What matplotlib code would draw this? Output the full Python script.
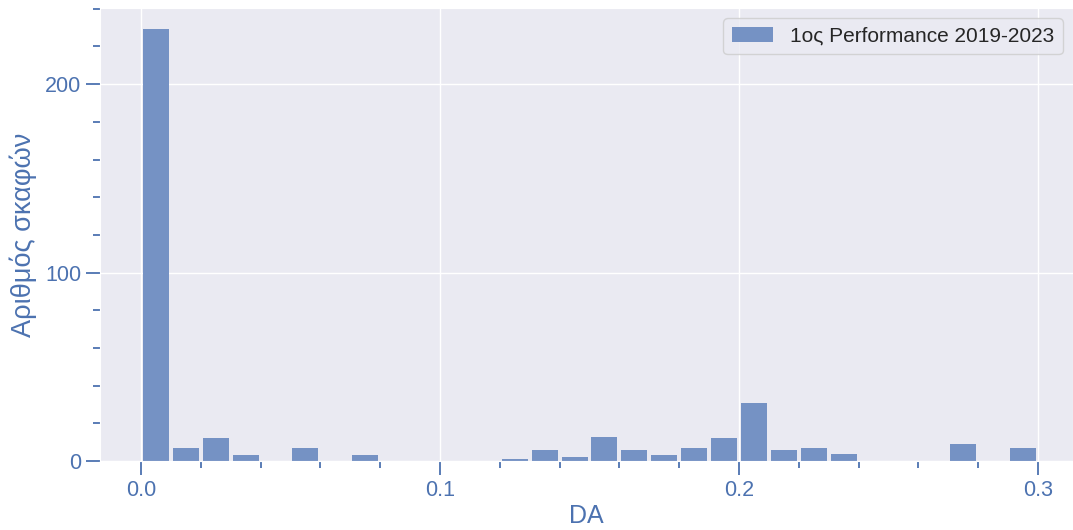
import matplotlib
matplotlib.use("Agg")
import matplotlib.pyplot as plt
import seaborn as sns
import numpy as np
from matplotlib.ticker import MultipleLocator

# histogram bins (DA, width 0.01) and counts
bin_edges = [round(0.01 * i, 2) for i in range(31)]
counts = [229, 7, 12, 3, 0, 7, 0, 3, 0, 0,
          0, 0, 1, 6, 2, 13, 6, 3, 7, 12,
          31, 6, 7, 4, 0, 0, 0, 9, 0, 7]
series_label = "1ος Performance 2019-2023"
x_label = "DA"
y_label = "Αριθμός σκαφών"

sns.set_style("darkgrid")
plt.rcParams['font.family'] = ['Liberation Sans', 'DejaVu Sans']
blue = '#4C72B0'
bar_color = '#7592C4'  # deep blue at 0.75 alpha over the grey background

fig = plt.figure(figsize=(10.73, 5.30), dpi=100)
ax = fig.add_axes([0.0932, 0.130, 0.9068, 0.855])

centers = [(a + b) / 2 for a, b in zip(bin_edges[:-1], bin_edges[1:])]
ax.hist(centers, bins=bin_edges, weights=counts, color=bar_color,
        rwidth=0.87, linewidth=0, label=series_label)

ax.set_xlim(-0.0137, 0.3117)
ax.set_ylim(0, 240.4)

ax.xaxis.set_major_locator(MultipleLocator(0.1))
ax.xaxis.set_minor_locator(MultipleLocator(0.02))
ax.yaxis.set_major_locator(MultipleLocator(100))
ax.yaxis.set_minor_locator(MultipleLocator(20))
ax.tick_params(axis='both', which='major', length=10, width=1.3, colors=blue,
               labelsize=15.5, direction='out')
ax.tick_params(axis='both', which='minor', length=5, width=1.3, colors=blue,
               direction='out')
ax.tick_params(axis='x', which='both', bottom=True)
ax.tick_params(axis='y', which='both', left=True)
ax.grid(True, which='major', color='white', linewidth=1)
ax.grid(False, which='minor')

ax.set_xlabel(x_label, fontsize=18, color=blue, labelpad=2)
ax.set_ylabel(y_label, fontsize=19.5, color=blue, labelpad=6)

leg = ax.legend(loc='upper right', fontsize=15, frameon=True)

fig.savefig("out.png", dpi=100)
